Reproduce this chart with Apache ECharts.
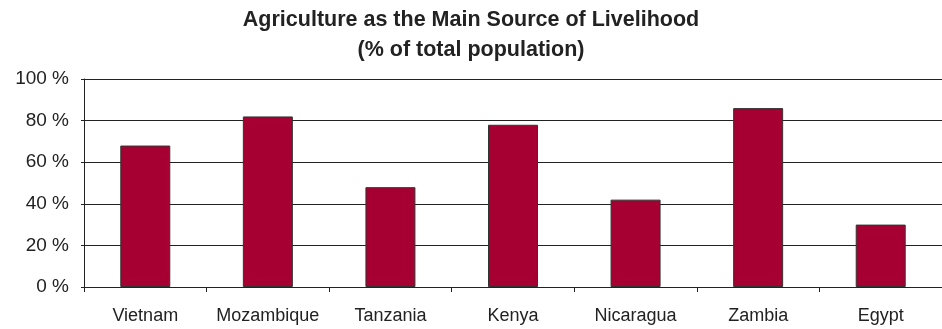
<!DOCTYPE html>
<html>
<head>
<meta charset="utf-8">
<script src="https://cdn.jsdelivr.net/npm/echarts@6/dist/echarts.min.js"></script>
<style>html,body{margin:0;padding:0;background:#fff}#c{width:942px;height:329px}</style>
</head>
<body>
<div id="c"></div>
<script>
var categories = ["Vietnam", "Mozambique", "Tanzania", "Kenya", "Nicaragua", "Zambia", "Egypt"];
var values = [68, 82, 48, 78, 42, 86, 30];
var titleLines = ["Agriculture as the Main Source of Livelihood", "(% of total population)"];

var chart = echarts.init(document.getElementById('c'), null, {renderer: 'canvas'});
chart.setOption({
  animation: false,
  backgroundColor: '#fff',
  title: {
    text: titleLines.join('\n'),
    left: 'center',
    top: 5,
    padding: 0,
    textStyle: {fontFamily: 'Liberation Sans, Arial, sans-serif', fontWeight: 'bold', fontSize: 21.5, color: '#222', lineHeight: 30}
  },
  grid: {left: 84, right: -10, top: 79, bottom: 42, containLabel: false},
  xAxis: {
    type: 'category',
    data: categories,
    axisLine: {show: true, lineStyle: {color: '#222', width: 1}},
    axisTick: {show: true, length: 5, alignWithLabel: false, lineStyle: {color: '#222'}},
    axisLabel: {fontFamily: 'Liberation Sans, Arial, sans-serif', fontSize: 18, color: '#222', margin: 20, interval: 0}
  },
  yAxis: {
    type: 'value',
    min: 0, max: 100, interval: 20,
    axisLine: {show: true, lineStyle: {color: '#222', width: 1}},
    axisTick: {show: true, length: 3, lineStyle: {color: '#222'}},
    splitLine: {show: true, lineStyle: {color: '#222', width: 1}},
    axisLabel: {formatter: '{value} %', fontFamily: 'Liberation Sans, Arial, sans-serif', fontSize: 19, color: '#222', margin: 15}
  },
  series: [{
    type: 'bar',
    data: values,
    barWidth: 50,
    itemStyle: {color: '#A60032', borderColor: '#333', borderWidth: 1}
  }]
});
</script>
</body>
</html>
